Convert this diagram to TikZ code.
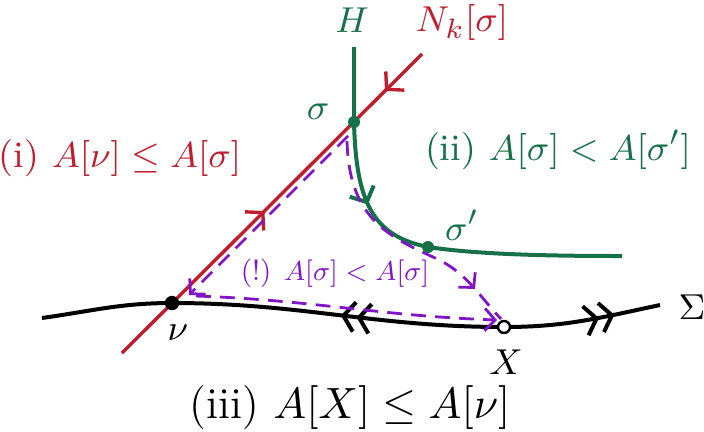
\documentclass[tikz,border=0pt]{standalone}
\usetikzlibrary{arrows.meta,decorations.markings}
\definecolor{cred}{RGB}{190,30,45}
\definecolor{cgreen}{RGB}{22,112,72}
\definecolor{cpurple}{RGB}{130,20,200}
\tikzset{
  redline/.style={draw=cred, line width=0.85pt},
  greenline/.style={draw=cgreen, line width=1pt},
  sigline/.style={draw=black, line width=1pt},
  pdash/.style={draw=cpurple, line width=0.7pt, dash pattern=on 3.7pt off 2.3pt},
  barbtip/.tip={Straight Barb[length=3pt,width=6.6pt]},
  dbltip/.tip={Straight Barb[length=2.8pt,width=7.4pt]Straight Barb[length=2.8pt,width=7.4pt]},
  ptip/.tip={Straight Barb[length=2.6pt,width=5.6pt]},
  lbl/.style={inner sep=1pt},
  big/.style={font=\fontsize{11}{13}\selectfont},
  mid/.style={font=\fontsize{9.3}{11}\selectfont},
  small/.style={font=\fontsize{9.5}{11}\selectfont, scale=0.76},
}
\begin{document}
\begin{tikzpicture}[x=0.25pt,y=0.25pt,font=\fontsize{9.5}{11}\selectfont]
\useasboundingbox (0,0) rectangle (704,431);
% coordinates
\coordinate (sigma) at (354,309);
\coordinate (nu) at (172,128);
\coordinate (X) at (504,104);
\coordinate (sigp) at (428,184);
\coordinate (Rb) at (122,78);
\coordinate (Rt) at (422,377);
\coordinate (Ht) at (354,384);
\coordinate (He) at (622,175);
\coordinate (S0) at (42,113);
\coordinate (S1) at (660,126);
\coordinate (pA) at (348,295);
\coordinate (pB) at (189,136);
\coordinate (pC) at (196,135);
\coordinate (pD) at (497,111);
\coordinate (pE) at (347,290);
\coordinate (pF) at (433,174);
\coordinate (pG) at (501,112);
% Sigma curve
\draw[sigline, postaction={decorate, decoration={markings,
   mark=at position 0.483 with {\arrowreversed{dbltip}},
   mark=at position 0.925 with {\arrow{dbltip}}}}]
  (S0) to[out=8,in=180] (nu) to[out=0,in=180] (X) to[out=0,in=192] (S1);
% red line N_k
\draw[redline, postaction={decorate, decoration={markings,
   mark=at position 0.475 with {\arrow{barbtip}},
   mark=at position 0.877 with {\arrowreversed{barbtip}}}}]
  (Rb) -- (Rt);
% green curve H
\draw[greenline, postaction={decorate, decoration={markings,
   mark=at position 0.37 with {\arrow{barbtip}}}}]
  (Ht) -- (sigma) .. controls (356,230) and (372,195) .. (sigp)
  .. controls (480,176) and (560,175) .. (He);
% purple dashed paths
\draw[pdash, -ptip] (pA) -- (pB);
\draw[pdash, -ptip] (pC) to[out=-2,in=178] (pD);
\draw[pdash, postaction={decorate, decoration={markings,
   mark=at position 0.84 with {\arrow[solid]{ptip}}}}]
  (pE) .. controls (349,215) and (385,196) .. (pF) to[out=-24,in=133] (pG);
% dots
\fill[cgreen] (sigma) circle (1.5pt);
\fill[cgreen] (sigp) circle (1.5pt);
\fill[black] (nu) circle (1.8pt);
\draw[fill=white, line width=0.6pt] (X) circle (1.5pt);
% labels
\node[lbl, text=cgreen] (Hl) at (352,411) {$H$};
\node[lbl, text=cred] (Nl) at (462,409) {$N_k[\sigma]$};
\node[lbl, text=cgreen] (sl) at (318,319) {$\sigma$};
\node[lbl, text=cgreen] (spl) at (462,206) {$\sigma'$};
\node[lbl] (nul) at (178,98) {$\nu$};
\node[lbl] (Xl) at (506,69) {$X$};
\node[lbl] (Sl) at (692,124) {$\Sigma$};
\node[lbl, mid, text=cred] (l1) at (120,273) {(i) $A[\nu]\le A[\sigma]$};
\node[lbl, mid, text=cgreen] (l2) at (558,281) {(ii) $A[\sigma]<A[\sigma']$};
\node[lbl, big] (l3) at (350,23) {(iii) $A[X]\le A[\nu]$};
\node[lbl, small, text=cpurple] (l4) at (335,158) {(!) $A[\sigma]<A[\sigma]$};
\end{tikzpicture}
\end{document}
